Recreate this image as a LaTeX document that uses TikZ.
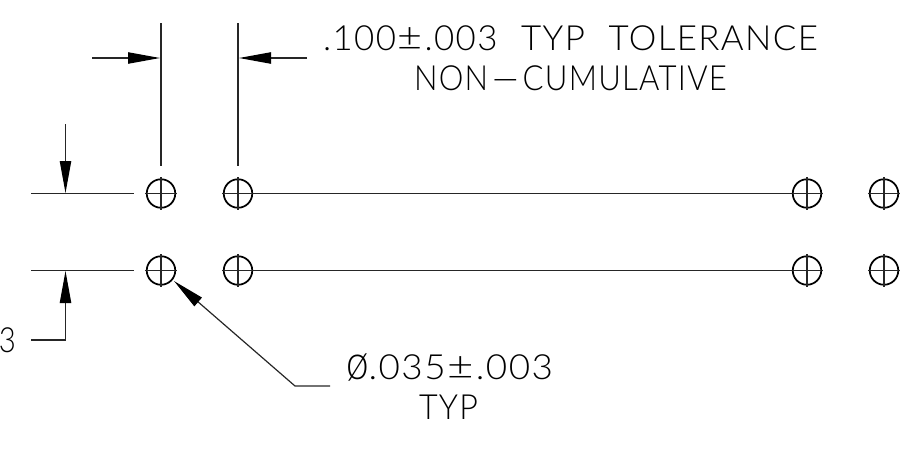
\documentclass[tikz,border=0pt]{standalone}
\usepackage{fontspec}
\usepackage{graphicx}
\setmainfont{Lato Light}[LetterSpace=4]
\usetikzlibrary{arrows.meta}
\tikzset{
  x=0.75pt,y=-0.75pt,
  line/.style={line width=0.9pt,black!85},
  hole/.style={circle,draw,line width=1.3pt,minimum size=28.5*0.75pt,inner sep=0pt,outer sep=0pt},
  dim/.style={line,-{Triangle[length=24pt,width=8.5pt,black]},shorten >=0pt},
  lab/.style={inner sep=0pt,outer sep=0pt,anchor=base west,font=\fontsize{26}{26}\selectfont}
}
\newcommand{\crosshair}[1]{\draw[line] ([yshift=1.4pt]#1.north)--([yshift=-1.4pt]#1.south);\draw[line] ([xshift=-1.4pt]#1.west)--([xshift=1.4pt]#1.east);}
\newcommand{\fitw}[2]{\resizebox{\dimexpr #1pt*3/4\relax}{\height}{#2}}
\newcommand{\bigpm}{\hspace{0.04em}\resizebox{0.72em}{0.66em}{±}\hspace{0.06em}}
\begin{document}
\begin{tikzpicture}
\useasboundingbox (0,0) rectangle (924,450);
\foreach \n/\x in {a/161,b/238,c/807,d/884}{
  \node[hole] (\n1) at (\x,193.5) {};
  \node[hole] (\n2) at (\x,270.5) {};
  \crosshair{\n1}
  \crosshair{\n2}
}
\draw[line] (b1)--(c1);
\draw[line] (b2)--(c2);
% extension lines
\coordinate (eva) at (161,23); \coordinate (evae) at (161,166);
\coordinate (evb) at (238,23); \coordinate (evbe) at (238,166);
\coordinate (eha) at (31,193.5); \coordinate (ehae) at (134,193.5);
\coordinate (ehb) at (31,270.5); \coordinate (ehbe) at (134,270.5);
\draw[line] (eva)--(evae);
\draw[line] (evb)--(evbe);
\draw[line] (eha)--(ehae);
\draw[line] (ehb)--(ehbe);
% dimension arrows
\coordinate (d1s) at (92,58); \coordinate (d1e) at (160,58);
\coordinate (d2s) at (307,58); \coordinate (d2e) at (239,58);
\coordinate (d3s) at (65.5,124); \coordinate (d3e) at (65.5,193);
\coordinate (d4s) at (31,340); \coordinate (d4m) at (65.5,340); \coordinate (d4e) at (65.5,271);
\draw[dim] (d1s)--(d1e);
\draw[dim] (d2s)--(d2e);
\draw[dim] (d3s)--(d3e);
\draw[dim] (d4s)--(d4m)--(d4e);
% leader
\coordinate (ls) at (330,386); \coordinate (lm) at (295,386); \coordinate (le) at (174,281);
\draw[dim] (ls)--(lm)--(le);
% text
\node[lab] (t1) at (323,50.5) {\fitw{495}{\spaceskip=0.68em .100\bigpm.003 TYP TOLERANCE}};
\node[lab] (t2) at (414,90) {\fitw{313}{NON\scalebox{3}[1]{-}CUMULATIVE}};
\node[lab] (t3) at (346,379) {\fitw{207}{\scalebox{1.1}[1.4]{ø}.035\bigpm.003}};
\node[lab] (t4) at (419,419) {\fitw{59}{TYP}};
\node[lab,anchor=base east] (t5) at (16,352) {\fitw{17}{3}};
\end{tikzpicture}
\end{document}
